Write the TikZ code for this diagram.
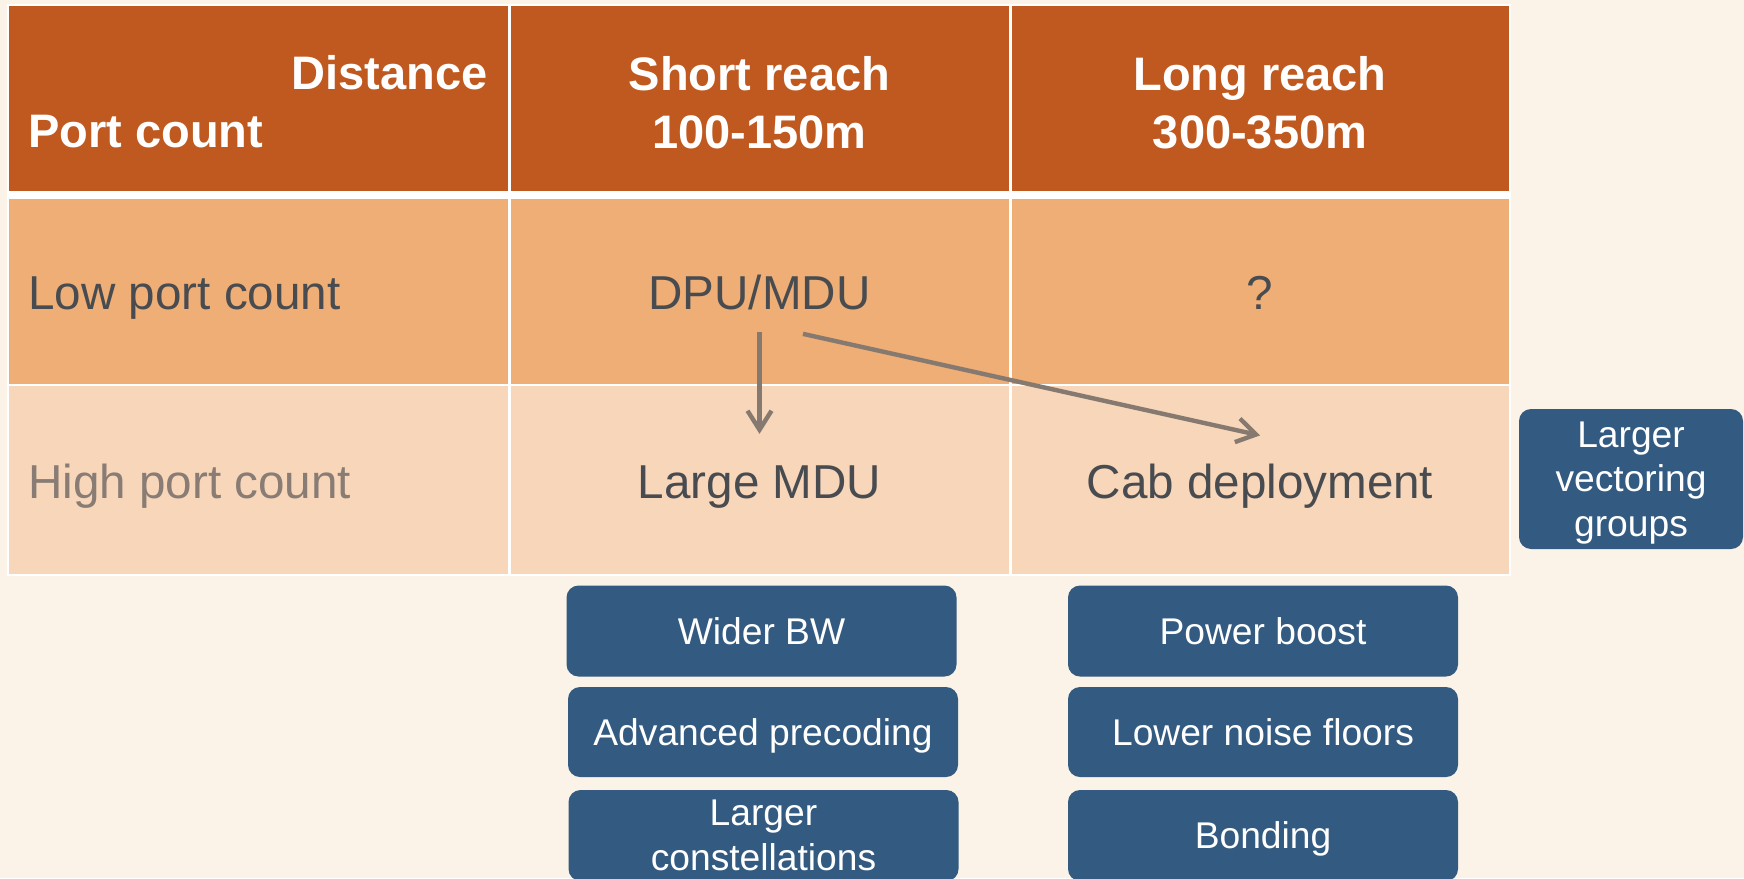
\documentclass[tikz,border=0pt]{standalone}
\usepackage{fontspec}
\setmainfont{Liberation Sans}
\usetikzlibrary{arrows.meta}
\definecolor{bgcream}{RGB}{251,243,231}
\definecolor{hdrfill}{RGB}{192,89,31}
\definecolor{lowfill}{RGB}{238,174,118}
\definecolor{highfill}{RGB}{247,214,185}
\definecolor{boxblue}{RGB}{51,90,128}
\definecolor{darktext}{RGB}{72,76,80}
\definecolor{softtext}{RGB}{136,124,116}
\definecolor{arrowgray}{RGB}{133,121,112}
\tikzset{
  hdr/.style={inner sep=0pt, text=white, font=\fontsize{23.5}{29}\selectfont\bfseries},
  celltext/.style={inner sep=0pt, text=darktext, font=\fontsize{23.8}{29}\selectfont},
  feature/.style={fill=boxblue, rounded corners=6pt, text=white, inner sep=0pt,
    align=center, text depth=0pt, font=\fontsize{18.6}{22.4}\selectfont},
  arr/.style={draw=arrowgray, line width=2.2pt, -{Straight Barb[length=9.5pt,width=12pt]}}
}
\begin{document}
\begin{tikzpicture}[x=0.5pt,y=-0.5pt]
\useasboundingbox (0,0) rectangle (1744,878);
\fill[bgcream] (0,0) rectangle (1744,878);
\begin{scope}
\clip (0,0) rectangle (1744,878);
% table frame and cells
\fill[white] (7,4) rectangle (1511,576);
\fill[hdrfill] (9,6) rectangle (507.5,191);
\fill[hdrfill] (510.5,6) rectangle (1008.5,191);
\fill[hdrfill] (1011.5,6) rectangle (1509,191);
\fill[lowfill] (9,199) rectangle (507.5,383.5);
\fill[lowfill] (510.5,199) rectangle (1008.5,383.5);
\fill[lowfill] (1011.5,199) rectangle (1509,383.5);
\fill[highfill] (9,386) rectangle (507.5,574);
\fill[highfill] (510.5,386) rectangle (1008.5,574);
\fill[highfill] (1011.5,386) rectangle (1509,574);

% header row
\node[hdr, anchor=base east] (dist) at (488,89) {Distance};
\node[hdr, anchor=base west] (portcount) at (28,147) {Port count};
\node[hdr, anchor=base] (short1) at (759.5,90) {Short reach};
\node[hdr, anchor=base] (short2) at (759.5,148) {100-150m};
\node[hdr, anchor=base] (long1) at (1260,90) {Long reach};
\node[hdr, anchor=base] (long2) at (1260,148) {300-350m};

% low port count row
\node[celltext, anchor=base west] (low) at (28,309) {Low port count};
\node[celltext, anchor=base] (dpu) at (759.5,309) {DPU/MDU};
\node[celltext, anchor=base] (unknown) at (1260,309) {?};

% high port count row
\node[celltext, anchor=base west, text=softtext] (high) at (28,498) {High port count};
\node[celltext, anchor=base] (lmdu) at (759.5,498) {Large MDU};
\node[celltext, anchor=base] (cab) at (1260,498) {Cab deployment};

% transitions
\draw[arr] ([yshift=-11pt]dpu.south) -- ([yshift=15.5pt]lmdu.north);
\draw[arr] ([xshift=21.75pt,yshift=-12pt]dpu.south) -- ([yshift=13.85pt]cab.north);

% enabling techniques
\node[feature, minimum width=195pt, minimum height=45.5pt] (wbw) at (761.5,631) {Wider BW};
\node[feature, minimum width=195pt, minimum height=45pt] (prec) at (763,732) {Advanced precoding};
\node[feature, minimum width=195pt, minimum height=45.5pt] (const) at (763.5,835.5) {Larger\\constellations};
\node[feature, minimum width=195pt, minimum height=45.5pt] (pboost) at (1263,631) {Power boost};
\node[feature, minimum width=195pt, minimum height=45pt] (noise) at (1263,732) {Lower noise floors};
\node[feature, minimum width=195pt, minimum height=45.5pt] (bond) at (1263,835.5) {Bonding};
\node[feature, minimum width=112pt, minimum height=70pt] (vect) at (1631,479) {Larger\\vectoring\\groups};
\end{scope}
\end{tikzpicture}
\end{document}
